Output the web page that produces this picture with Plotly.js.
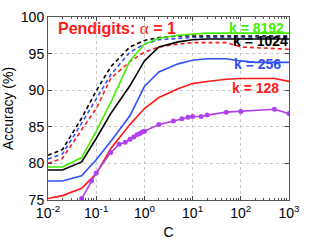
<!DOCTYPE html>
<html><head><meta charset="utf-8">
<script src="https://cdn.plot.ly/plotly-3.0.1.min.js"></script>
<style>html,body{margin:0;padding:0;background:#fff}#chart{width:319px;height:240px}</style>
</head><body><div id="chart"></div>
<script>
const C = [0.01,0.02,0.05,0.1,0.2,0.5,1,2,5,10,20,50,100,200,500,1000];
const k128 = [75.2,75.6,76.6,78.6,82.0,85.3,87.5,89.0,90.2,90.9,91.2,91.5,91.6,91.6,91.6,91.2];
const k256 = [77.6,77.6,78.3,80.5,83.0,86.5,90.5,92.5,93.6,94.1,94.3,94.3,94.0,93.8,93.8,93.8];
const k1024 = [79.1,79.1,80.2,83.4,86.8,90.6,94.0,95.9,96.6,96.9,97.0,97.0,97.0,97.0,97.0,97.0];
const k8192 = [79.5,79.5,80.8,84.4,88.3,94.0,96.3,97.1,97.5,97.7,97.8,97.8,97.8,97.8,97.8,97.8];
const k128d = [80.0,80.7,84.6,87.5,91.6,93.9,95.2,95.9,96.3,96.5,96.5,96.5,95.9,95.8,95.7,95.6];
const k256d = [80.6,81.3,85.5,88.9,92.1,95.2,96.3,96.9,97.1,97.2,97.2,97.2,97.2,97.2,97.2,97.2];
const k1024d = [81.1,81.9,86.2,89.9,93.2,95.9,96.8,97.2,97.4,97.4,97.4,97.4,97.4,97.4,97.4,97.4];
const Cp = [0.05,0.08,0.1,0.2,0.3,0.4,0.5,0.6,0.7,0.8,0.9,1,2,4,6,8,10,15,20,50,100,500,1000];
const accP = [75.2,77.6,78.7,81.5,82.6,82.9,83.3,83.6,83.9,84.1,84.3,84.4,85.3,85.8,86.1,86.3,86.4,86.4,86.6,87.0,87.1,87.4,86.8];
const xTickVals = [0.01,0.1,1,10,100,1000];
const xTickText = ['10<sup>-2</sup>','10<sup>-1</sup>','10<sup>0</sup>','10<sup>1</sup>','10<sup>2</sup>','10<sup>3</sup>'];
const yTickVals = [75,80,85,90,95,100];

const RED='#ff1a1a', BLUE='#3050f8', BLACK='#000000', GREEN='#44ee00', PURPLE='#b040f0';
const line=(y,c,dash)=>({x:C,y:y,type:'scatter',mode:'lines',line:{color:c,width:1.6,dash:dash||'solid'},hoverinfo:'none'});
const traces=[
  line(k128d,RED,'4px,3px'), line(k256d,BLUE,'4px,3px'), line(k1024d,BLACK,'4px,3px'),
  line(k128,RED), line(k256,BLUE), line(k1024,BLACK), line(k8192,GREEN),
  {x:Cp,y:accP,type:'scatter',mode:'lines+markers',line:{color:PURPLE,width:1.6},marker:{color:PURPLE,size:5},hoverinfo:'none'}
];
const F='Liberation Sans, Arial, sans-serif';
const layout={
  width:319,height:240,margin:{l:48,r:30,t:17,b:40},
  paper_bgcolor:'#fff',plot_bgcolor:'#fff',showlegend:false,
  font:{family:F,size:14,color:'#000'},
  xaxis:{type:'log',range:[-2,3],tickvals:xTickVals,ticktext:xTickText,ticks:'inside',ticklen:4,
    showline:true,linecolor:'#555',linewidth:1,mirror:'ticks',showgrid:true,gridcolor:'#c8c8c8',griddash:'dot',
    zeroline:false,tickfont:{size:14},
    minor:{ticks:'inside',ticklen:2,dtick:'D1',showgrid:false,tickcolor:'#555'},
    title:{text:'C',font:{size:14},standoff:9}},
  yaxis:{range:[75,100],tickvals:yTickVals,ticks:'inside',ticklen:4,showline:true,linecolor:'#555',linewidth:1,
    mirror:'ticks',showgrid:true,gridcolor:'#c8c8c8',griddash:'dot',zeroline:false,tickfont:{size:14},
    title:{text:'Accuracy (%)',font:{size:14},standoff:6}},
  annotations:[
    {text:'<b>Pendigits:</b> <span style="font-family:Liberation Serif;font-size:17px">α</span><b> = 1</b>',font:{color:RED,size:16}},
    {text:'<b>k = 8192</b>',font:{color:GREEN,size:14}, px:256, py:28},
    {text:'<b>k = 1024</b>',font:{color:BLACK,size:14}, px:260, py:41},
    {text:'<b>k = 256</b>',font:{color:BLUE,size:14}, px:257, py:64},
    {text:'<b>k = 128</b>',font:{color:RED,size:14}, px:255, py:88}
  ]
};
// convert pixel positions (label placement) to paper coordinates
const pw=319-48-30, ph=240-17-40;
layout.annotations=layout.annotations.map((a,i)=>{
  if(i===0){return Object.assign({},a,{x:(56-48)/pw,y:1-(29-17)/ph,xref:'paper',yref:'paper',showarrow:false,xanchor:'left',yanchor:'middle'});}
  const o=Object.assign({},a,{x:(a.px-48)/pw,y:1-(a.py-17)/ph,xref:'paper',yref:'paper',showarrow:false,xanchor:'center',yanchor:'middle'});
  delete o.px; delete o.py; return o;
});
Plotly.newPlot('chart',traces,layout,{staticPlot:true,displayModeBar:false});
</script></body></html>
